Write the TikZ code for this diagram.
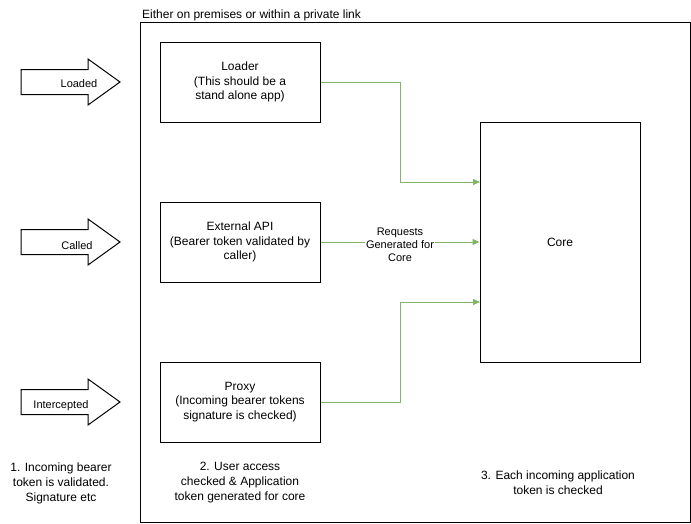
\documentclass[tikz,border=0pt]{standalone}
\usepackage{fontspec}
\setmainfont{Liberation Sans}
\usetikzlibrary{arrows.meta,shapes.arrows}
\definecolor{grn}{HTML}{82B366}
\tikzset{
  box/.style={draw=black,line width=1pt,minimum width=160pt,minimum height=80pt,align=center,font=\fontsize{12}{14.5}\selectfont,inner sep=0pt},
  flow/.style={draw=grn,line width=1pt,-{Triangle[length=7pt,width=6pt]}},
  note/.style={align=center,font=\fontsize{12}{15}\selectfont,inner sep=0pt},
  inarrow/.style={draw=black,line width=1pt,fill=white},
  lbl/.style={font=\fontsize{11}{13}\selectfont,inner sep=0pt}
}
\begin{document}
\begin{tikzpicture}[x=1pt,y=-1pt]
\useasboundingbox (0,0) rectangle (691,523);
% container
\node[draw=black,line width=1pt,minimum width=550pt,minimum height=500pt,inner sep=0pt] (cont) at (415,272) {};
\node[anchor=base west,font=\fontsize{12}{14}\selectfont,inner sep=0pt] (title) at (142,18) {Either on premises or within a private link};
% boxes
\node[box] (loader) at (240,82) {Loader\\(This should be a\\stand alone app)};
\node[box] (ext) at (240,242) {External API\\(Bearer token validated by\\caller)};
\node[box] (proxy) at (240,402) {Proxy\\(Incoming bearer tokens\\signature is checked)};
\node[box,minimum height=240pt] (core) at (560,242) {Core};
% connectors
\coordinate (c1) at (480,182);
\coordinate (c3) at (480,302);
\draw[flow] (loader.east) -| (400,182) -- (c1);
\draw[flow] (ext.east) -- (core.west);
\draw[flow] (proxy.east) -| (400,302) -- (c3);
\node[lbl,fill=white,align=center,inner sep=1pt] (req) at (400,245) {Requests\\Generated for\\Core};
% input arrows
\foreach \y/\t/\tx/\dy/\n in {82/Loaded/79/1.5/a1, 242/Called/77/4/a2, 402/Intercepted/61/4/a3}{
  \draw[inarrow] (21,\y-12.5) -- (88,\y-12.5) -- (88,\y-23) -- (120,\y) -- (88,\y+23) -- (88,\y+12.5) -- (21,\y+12.5) -- cycle;
  \node[lbl] (\n) at (\tx,\y+\dy) {\t};
}
% notes
\node[note] (n1) at (61,483) {1. Incoming bearer\\token is validated.\\Signature etc};
\node[note] (n2) at (240,483) {2. User access\\checked \& Application\\token generated for core};
\node[note] (n3) at (558,483) {3. Each incoming application\\token is checked};
\end{tikzpicture}
\end{document}
